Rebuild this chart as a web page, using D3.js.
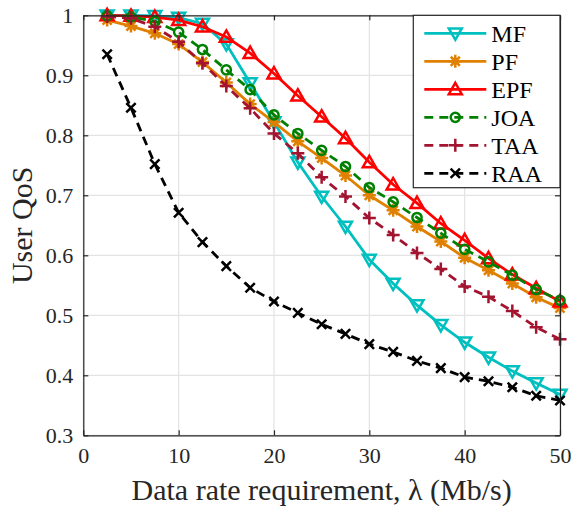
<!DOCTYPE html>
<html>
<head>
<meta charset="utf-8">
<script src="https://cdn.jsdelivr.net/npm/d3@7"></script>
<style>
  body { margin: 0; background: #fff; }
  svg { display: block; font-family: "Liberation Serif", "Times New Roman", serif; }
</style>
</head>
<body>
<svg id="chart"></svg>
<script>
const rates = [2.5, 5, 7.5, 10, 12.5, 15, 17.5, 20, 22.5, 25, 27.5, 30, 32.5, 35, 37.5, 40, 42.5, 45, 47.5, 50];

const mfQoS  = [1.0, 1.0, 0.999, 0.996, 0.986, 0.952, 0.887, 0.822, 0.755, 0.698, 0.648, 0.593, 0.553, 0.517, 0.484, 0.455, 0.43, 0.407, 0.387, 0.368];
const pfQoS  = [0.992, 0.982, 0.97, 0.952, 0.922, 0.888, 0.852, 0.822, 0.79, 0.762, 0.733, 0.70, 0.675, 0.648, 0.623, 0.596, 0.575, 0.553, 0.53, 0.512];
const epfQoS = [1.0, 0.999, 0.997, 0.992, 0.981, 0.964, 0.937, 0.903, 0.866, 0.831, 0.795, 0.755, 0.718, 0.687, 0.653, 0.625, 0.595, 0.568, 0.545, 0.523];
const joaQoS = [0.999, 0.997, 0.99, 0.972, 0.943, 0.909, 0.876, 0.834, 0.803, 0.775, 0.748, 0.713, 0.689, 0.663, 0.637, 0.61, 0.589, 0.567, 0.543, 0.525];
const taaQoS = [0.998, 0.995, 0.981, 0.956, 0.92, 0.882, 0.845, 0.803, 0.77, 0.73, 0.698, 0.662, 0.634, 0.604, 0.577, 0.548, 0.531, 0.507, 0.48, 0.46];
const raaQoS = [0.935, 0.846, 0.752, 0.671, 0.622, 0.582, 0.546, 0.523, 0.504, 0.485, 0.469, 0.452, 0.439, 0.424, 0.412, 0.397, 0.39, 0.38, 0.366, 0.358];

const xTicks = [0, 10, 20, 30, 40, 50];
const yTicks = [0.3, 0.4, 0.5, 0.6, 0.7, 0.8, 0.9, 1];

const series = [
  { name: "MF",  values: mfQoS,  color: "#00bfbf", dash: null,  marker: "tridown" },
  { name: "PF",  values: pfQoS,  color: "#e08000", dash: null,  marker: "asterisk" },
  { name: "EPF", values: epfQoS, color: "#ff0000", dash: null,  marker: "triup" },
  { name: "JOA", values: joaQoS, color: "#008000", dash: "9,6", marker: "circle" },
  { name: "TAA", values: taaQoS, color: "#a2142f", dash: "9,6", marker: "plus" },
  { name: "RAA", values: raaQoS, color: "#000000", dash: "9,6", marker: "cross" }
];

const width = 574, height = 508;
const margin = { top: 15.3, right: 14, bottom: 72.7, left: 83.3 };
const iw = width - margin.left - margin.right;
const ih = height - margin.top - margin.bottom;

const svg = d3.select("#chart").attr("width", width).attr("height", height);
const g = svg.append("g").attr("transform", `translate(${margin.left},${margin.top})`);

const x = d3.scaleLinear().domain([0, 50]).range([0, iw]);
const y = d3.scaleLinear().domain([0.3, 1]).range([ih, 0]);

// grid
g.append("g").selectAll("line").data(xTicks).enter().append("line")
  .attr("x1", d => x(d)).attr("x2", d => x(d)).attr("y1", 0).attr("y2", ih)
  .attr("stroke", "#e3e3e3").attr("stroke-width", 1.2);
g.append("g").selectAll("line").data(yTicks).enter().append("line")
  .attr("y1", d => y(d)).attr("y2", d => y(d)).attr("x1", 0).attr("x2", iw)
  .attr("stroke", "#e3e3e3").attr("stroke-width", 1.2);

// marker paths (centered at 0,0)
function markerPath(type) {
  const s = 6.5;
  switch (type) {
    case "triup":   return `M0,${-s}L${s},${s * 0.75}L${-s},${s * 0.75}Z`;
    case "tridown": return `M0,${s}L${s},${-s * 0.75}L${-s},${-s * 0.75}Z`;
    case "plus":    return `M${-s},0H${s}M0,${-s}V${s}`;
    case "cross":   { const c = s * 0.72; return `M${-c},${-c}L${c},${c}M${-c},${c}L${c},${-c}`; }
    case "asterisk": { const c = s * 0.7; return `M${-s},0H${s}M0,${-s}V${s}M${-c},${-c}L${c},${c}M${-c},${c}L${c},${-c}`; }
    default: return null;
  }
}

function drawMarker(sel, type, color) {
  if (type === "circle") {
    sel.append("circle").attr("r", 4.6).attr("fill", "none")
      .attr("stroke", color).attr("stroke-width", 2.5);
  } else {
    sel.append("path").attr("d", markerPath(type)).attr("fill", "none")
      .attr("stroke", color).attr("stroke-width", 2.5).attr("stroke-linejoin", "miter");
  }
}

const line = d3.line().x(d => x(d[0])).y(d => y(d[1]));

series.forEach(s => {
  const pts = rates.map((r, i) => [r, s.values[i]]);
  g.append("path").datum(pts)
    .attr("d", line).attr("fill", "none")
    .attr("stroke", s.color).attr("stroke-width", 2.8)
    .attr("stroke-dasharray", s.dash);
  g.append("g").selectAll("g").data(pts).enter().append("g")
    .attr("transform", d => `translate(${x(d[0])},${y(d[1])})`)
    .each(function () { drawMarker(d3.select(this), s.marker, s.color); });
});

// axes with inward ticks on all sides
const axisColor = "#262626";
g.append("g").attr("transform", `translate(0,${ih})`)
  .call(d3.axisBottom(x).tickValues(xTicks).tickSizeInner(-5).tickSizeOuter(0).tickPadding(12));
g.append("g")
  .call(d3.axisLeft(y).tickValues(yTicks).tickSizeInner(-5).tickSizeOuter(0).tickPadding(10).tickFormat(d3.format("")));
g.append("g").call(d3.axisTop(x).tickValues(xTicks).tickSizeInner(-5).tickSizeOuter(0).tickFormat(""));
g.append("g").attr("transform", `translate(${iw},0)`)
  .call(d3.axisRight(y).tickValues(yTicks).tickSizeInner(-5).tickSizeOuter(0).tickFormat(""));

g.selectAll(".domain").attr("stroke", axisColor).attr("stroke-width", 1.2);
g.selectAll(".tick line").attr("stroke", axisColor).attr("stroke-width", 1.2);
g.selectAll(".tick text").attr("fill", "#262626")
  .style("font-family", "'Liberation Serif', 'Times New Roman', serif").style("font-size", "22px");

// axis labels
svg.append("text")
  .attr("x", margin.left + iw / 2).attr("y", 500)
  .attr("text-anchor", "middle").attr("fill", "#262626")
  .style("font-size", "30px")
  .text("Data rate requirement, λ (Mb/s)");

svg.append("text")
  .attr("transform", `translate(32,${margin.top + ih / 2}) rotate(-90)`)
  .attr("text-anchor", "middle").attr("fill", "#262626")
  .style("font-size", "30px")
  .text("User QoS");

// legend
const lx = 413.3, ly = margin.top, lw = iw + margin.left - lx, lh = 172.4;
const legend = svg.append("g").attr("transform", `translate(${lx},${ly})`);
legend.append("rect").attr("width", lw).attr("height", lh)
  .attr("fill", "#fff").attr("stroke", axisColor).attr("stroke-width", 1.2);

series.forEach((s, i) => {
  const row = legend.append("g").attr("transform", `translate(0,${18 + i * 28})`);
  row.append("line").attr("x1", 11).attr("x2", 73).attr("y1", 0).attr("y2", 0)
    .attr("stroke", s.color).attr("stroke-width", 2.8).attr("stroke-dasharray", s.dash);
  const m = row.append("g").attr("transform", "translate(42,0)");
  drawMarker(m, s.marker, s.color);
  row.append("text").attr("x", 78).attr("y", 0).attr("dy", "0.35em")
    .attr("fill", "#000").style("font-size", "24px").text(s.name);
});
</script>
</body>
</html>
